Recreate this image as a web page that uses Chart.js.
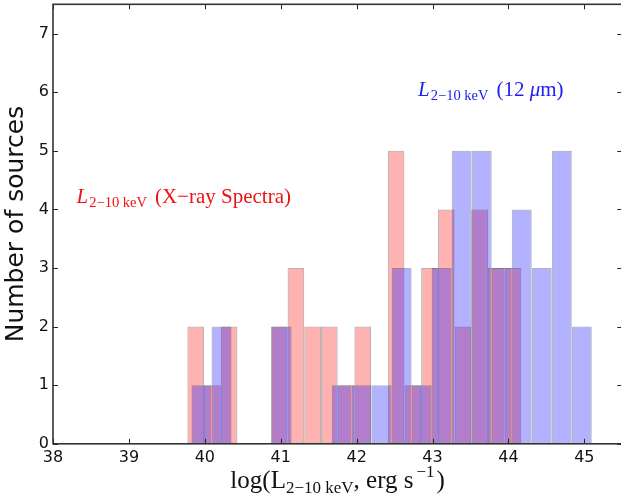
<!DOCTYPE html>
<html>
<head>
<meta charset="utf-8">
<script src="https://cdn.jsdelivr.net/npm/chart.js@4.4.1/dist/chart.umd.min.js"></script>
<style>
  html, body { margin: 0; padding: 0; background: #fff; overflow: hidden; }
  #wrap { width: 624px; height: 504px; }
</style>
</head>
<body>
<div id="wrap"><canvas id="histChart" width="624" height="504"></canvas></div>
<script>
// histogram bins (bin centres, counts)
const xraySpecCenters = [39.88, 40.10, 40.32, 40.54, 40.76, 40.98, 41.20, 41.42, 41.64, 41.86,
                         42.08, 42.30, 42.52, 42.74, 42.96, 43.18, 43.40, 43.62, 43.84, 44.06];
const xraySpecCounts  = [2, 1, 2, 0, 0, 2, 3, 2, 2, 1, 2, 0, 5, 1, 3, 4, 2, 4, 3, 3];

const midIrCenters = [39.956, 40.220, 40.483, 40.747, 41.011, 41.275, 41.538, 41.802, 42.066, 42.329,
                      42.593, 42.857, 43.120, 43.384, 43.648, 43.912, 44.175, 44.439, 44.703, 44.966];
const midIrCounts  = [1, 2, 0, 0, 2, 0, 0, 1, 1, 1, 3, 1, 3, 5, 5, 3, 4, 3, 5, 2];

const xTicks = [38, 39, 40, 41, 42, 43, 44, 45];
const yTicks = [0, 1, 2, 3, 4, 5, 6, 7];

const serif = "'Liberation Serif', 'DejaVu Serif', serif";

// draws a run of text pieces (sub/superscripts) left to right
function drawRuns(ctx, x, y, runs, color) {
  ctx.fillStyle = color;
  ctx.textAlign = 'left';
  ctx.textBaseline = 'alphabetic';
  let cx = x;
  runs.forEach(r => {
    ctx.font = r.font;
    cx += r.pre || 0;
    ctx.fillText(r.text, cx, y + (r.dy || 0));
    cx += ctx.measureText(r.text).width;
  });
  return cx - x;
}

function runsWidth(ctx, runs) {
  let w = 0;
  runs.forEach(r => { ctx.font = r.font; w += (r.pre || 0) + ctx.measureText(r.text).width; });
  return w;
}

const decorPlugin = {
  id: 'decor',
  afterDatasetsDraw(chart) {
    const { ctx, chartArea: a, scales } = chart;
    const x = scales.x, y = scales.y;
    ctx.save();
    // inward ticks on all four sides
    ctx.strokeStyle = '#222';
    ctx.lineWidth = 1;
    ctx.beginPath();
    xTicks.forEach(v => {
      const px = Math.round(x.getPixelForValue(v)) + 0.5;
      ctx.moveTo(px, a.bottom); ctx.lineTo(px, a.bottom - 5);
      ctx.moveTo(px, a.top); ctx.lineTo(px, a.top + 5);
    });
    yTicks.forEach(v => {
      const py = Math.round(y.getPixelForValue(v)) + 0.5;
      ctx.moveTo(a.left, py); ctx.lineTo(a.left + 5, py);
      ctx.moveTo(a.right, py); ctx.lineTo(a.right - 5, py);
    });
    ctx.stroke();
    // frame
    ctx.lineWidth = 1.6;
    ctx.strokeStyle = '#333';
    ctx.strokeRect(a.left, a.top, a.right - a.left, a.bottom - a.top);

    // labels inside the plot
    const big = '21px ' + serif, small = '14.5px ' + serif;
    drawRuns(ctx, x.getPixelForValue(38.31), y.getPixelForValue(4.11), [
      { text: 'L', font: 'italic ' + big },
      { text: '2\u221210 keV', font: small, dy: 4, pre: 1 },
      { text: '(X\u2212ray Spectra)', font: big, pre: 8 }
    ], '#f01010');
    drawRuns(ctx, x.getPixelForValue(42.81), y.getPixelForValue(5.94), [
      { text: 'L', font: 'italic ' + big },
      { text: '2\u221210 keV', font: small, dy: 4, pre: 1 },
      { text: '(12 ', font: big, pre: 8 },
      { text: '\u03bc', font: 'italic ' + big },
      { text: 'm)', font: big }
    ], '#2020f0');

    // x axis title with sub/superscript
    const tFont = '25px ' + serif, tSmall = '17px ' + serif;
    const titleRuns = [
      { text: 'log(L', font: tFont },
      { text: '2\u221210 keV', font: tSmall, dy: 5 },
      { text: ', erg s', font: tFont },
      { text: '\u22121', font: tSmall, dy: -11, pre: 3 },
      { text: ')', font: tFont, pre: 2 }
    ];
    const w = runsWidth(ctx, titleRuns);
    drawRuns(ctx, (a.left + a.right) / 2 - w / 2, 488, titleRuns, '#111');
    ctx.restore();
  }
};

const barStyle = {
  borderWidth: 1,
  borderSkipped: false,
  barPercentage: 1,
  categoryPercentage: 1,
  grouped: false,
  inflateAmount: 0
};

new Chart(document.getElementById('histChart'), {
  type: 'bar',
  data: {
    datasets: [
      Object.assign({
        label: 'L 2-10 keV (12 um)',
        data: midIrCenters.map((c, i) => ({ x: c, y: midIrCounts[i] })),
        xAxisID: 'x2',
        backgroundColor: 'rgba(0,0,255,0.3)',
        borderColor: 'rgba(0,0,0,0.3)',
        order: 1
      }, barStyle),
      Object.assign({
        label: 'L 2-10 keV (X-ray Spectra)',
        data: xraySpecCenters.map((c, i) => ({ x: c, y: xraySpecCounts[i] })),
        xAxisID: 'x',
        backgroundColor: 'rgba(255,0,0,0.3)',
        borderColor: 'rgba(0,0,0,0.3)',
        order: 2
      }, barStyle)
    ]
  },
  options: {
    responsive: false,
    animation: false,
    layout: { padding: { top: 4.3, right: 1.7, left: 0, bottom: 0 } },
    plugins: { legend: { display: false }, tooltip: { enabled: false } },
    scales: {
      x: {
        type: 'linear',
        min: 38,
        max: 45.5,
        offset: false,
        grid: { display: false, drawTicks: false, tickLength: 0, offset: false },
        border: { display: false },
        afterBuildTicks: s => { s.ticks = xTicks.map(v => ({ value: v })); },
        afterFit: s => { s.height = 60.2; s.paddingLeft = 0; s.paddingRight = 0; },
        ticks: {
          padding: 4,
          color: '#111',
          font: { family: 'DejaVu Sans', size: 16 },
          maxRotation: 0
        }
      },
      x2: {
        type: 'linear',
        min: 38,
        max: 45.5,
        offset: false,
        display: false
      },
      y: {
        min: 0,
        max: 7.5,
        grid: { display: false, drawTicks: false, tickLength: 0 },
        border: { display: false },
        afterBuildTicks: s => { s.ticks = yTicks.map(v => ({ value: v })); },
        afterFit: s => { s.width = 53; s.paddingTop = 0; s.paddingBottom = 0; },
        ticks: {
          padding: 4,
          color: '#111',
          font: { family: 'DejaVu Sans', size: 16 }
        },
        title: {
          display: true,
          text: 'Number of sources',
          color: '#111',
          font: { family: 'DejaVu Sans', size: 25 },
          padding: { top: 1, bottom: 0 }
        }
      }
    }
  },
  plugins: [decorPlugin]
});
</script>
</body>
</html>
